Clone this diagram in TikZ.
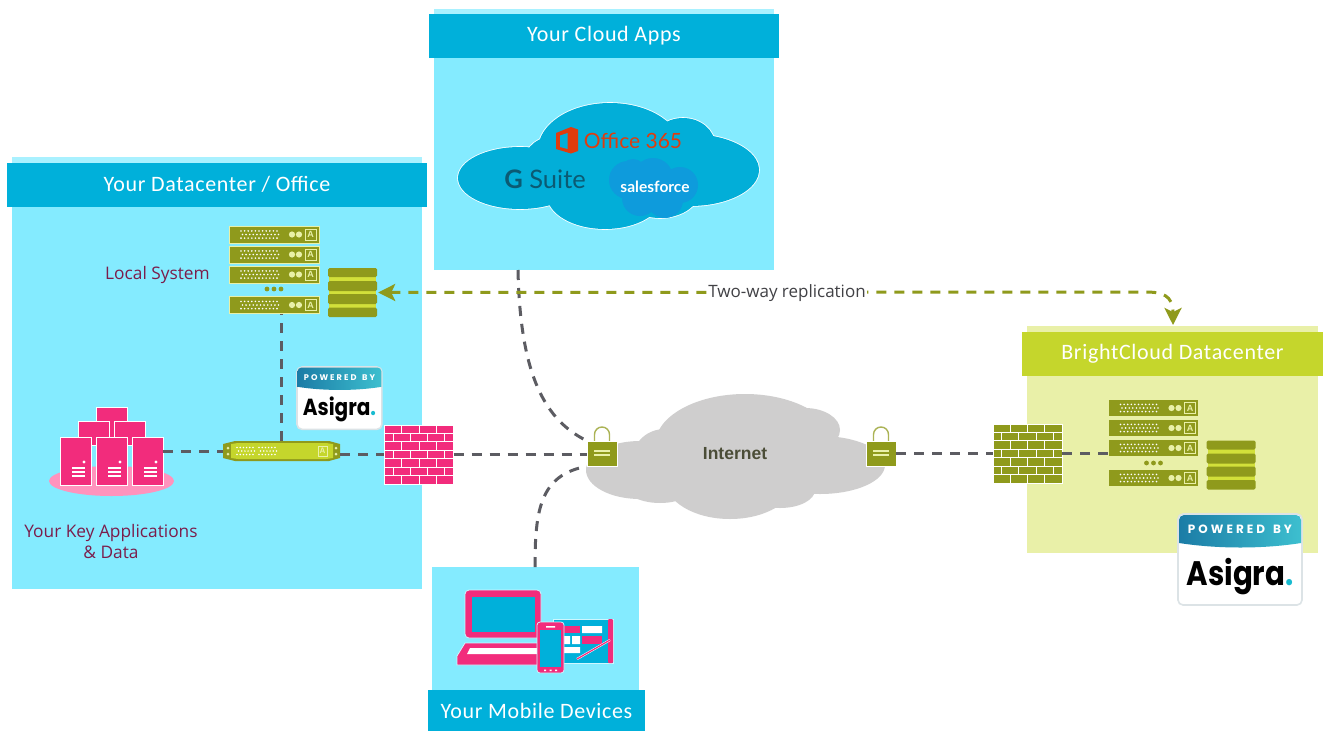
\documentclass[tikz,border=0pt]{standalone}
\usepackage{fontspec}
\setmainfont{Open Sans}
\newfontfamily\headf[LetterSpace=3]{Carlito}
\newfontfamily\lab{Open Sans}
\newfontfamily\arialf{Liberation Sans}
\newfontfamily\brandf{Lato}
\newfontfamily\asf{Poppins}
\newfontfamily\asn[FakeStretch=.86]{Poppins}
\usetikzlibrary{arrows.meta,calc,shapes.geometric}
\definecolor{hdr}{HTML}{00B0DA}
\definecolor{pan}{HTML}{84EBFF}
\definecolor{hdrg}{HTML}{C5D62C}
\definecolor{pang}{HTML}{E9F0A8}
\definecolor{oli}{HTML}{8F9A1C}
\definecolor{lim}{HTML}{D2E03A}
\definecolor{pk}{HTML}{F22C7C}
\definecolor{lpk}{HTML}{FF93BD}
\definecolor{gry}{HTML}{5C5C62}
\definecolor{plum}{HTML}{7B1D4B}
\definecolor{cloudg}{HTML}{CFCECE}
\definecolor{appcl}{HTML}{02AED8}
\definecolor{sfc}{HTML}{0E9BDC}
\definecolor{o365}{HTML}{E03C0E}
\definecolor{gs}{HTML}{0B5A73}
\definecolor{bd1}{HTML}{1B7CA6}
\definecolor{bd2}{HTML}{3DBFCF}
\definecolor{bdln}{HTML}{DCE3E6}
\definecolor{dotc}{HTML}{18BBD0}
\newcommand{\appscloudpath}{(520,178) ellipse [x radius=62pt,y radius=31pt]
  (610,150) ellipse [x radius=72pt,y radius=47pt]
  (690,170) ellipse [x radius=69pt,y radius=36pt]
  (683,145) ellipse [x radius=32pt,y radius=27pt]
  (605,195) ellipse [x radius=58pt,y radius=34pt]
  (660,190) ellipse [x radius=40pt,y radius=28pt]
  (555,160) ellipse [x radius=30pt,y radius=24pt]}
\tikzset{
  headbox/.style={fill=hdr,draw=none,inner sep=0pt,text=white,font=\headf\fontsize{22}{26}\selectfont},
  headgbox/.style={headbox,fill=hdrg},
  panelbox/.style={fill=pan,draw=none,inner sep=0pt},
  link/.style={draw=gry,line width=3pt,dash pattern=on 10pt off 8pt},
  repl/.style={draw=oli,line width=3pt,dash pattern=on 10pt off 8pt},
  textlab/.style={text=plum,font=\lab\fontsize{17.3}{21}\selectfont,align=center,inner sep=0pt},
  srvbody/.style={fill=oli,draw=pang,line width=.8pt,minimum width=90pt,minimum height=17pt,inner sep=0pt},
  server/.pic={
    \node[srvbody] (-body) at (0,0) {};
    \foreach \i in {0,...,10}{
      \fill[white] (-33+\i*3.6,-3.6) circle (.9pt);
      \fill[white] (-31.5+\i*3.6,0) circle (.9pt);
      \fill[white] (-33+\i*3.6,3.6) circle (.9pt);
    }
    \fill[pang] (18,0) circle (3.1pt) (25,0) circle (3.1pt);
    \draw[pang,line width=.9pt] (31,-5.5) rectangle (42,5.5);
    \node[text=pang,font=\arialf\bfseries\fontsize{9}{9}\selectfont,inner sep=0pt] at (36.5,0) {A};
  },
  dotsrow/.pic={\fill[oli] (-7,0) circle (2.4pt) (0,0) circle (2.4pt) (7,0) circle (2.4pt);},
  stackpic/.pic={
    \node[fill=lim,inner sep=0pt,minimum width=47pt,minimum height=46pt] (-body) at (0,0) {};
    \foreach \a/\b in {-24.5/-15.5,-11.5/-1.5,1.5/11.5,15/24.5}{
      \fill[oli,rounded corners=1.5pt] (-24.5,\a) rectangle (24.5,\b);
    }
  },
  firewall/.pic={
    \node[fill=#1,inner sep=0pt,minimum width=69pt,minimum height=59pt] (-body) at (0,0) {};
    \foreach \k in {1,...,6}{\draw[white,line width=.9pt] (-34.5,-29.5+\k*8.43) -- (34.5,-29.5+\k*8.43);}
    \foreach \k in {0,2,4,6}{
      \foreach \m in {1,2,3}{\draw[white,line width=.9pt] (-34.5+\m*17.25,-29.5+\k*8.43) -- ++(0,8.43);}
    }
    \foreach \k in {1,3,5}{
      \foreach \m in {0,1,2,3}{\draw[white,line width=.9pt] (-34.5+8.6+\m*17.25,-29.5+\k*8.43) -- ++(0,8.43);}
    }
    \draw[white,line width=.8pt] (-34.5,-29.5) rectangle (34.5,29.5);
  },
  padlock/.pic={
    \draw[oli!75!white,line width=1.4pt] (-7.5,-12) -- (-7.5,-19) arc[start angle=180,end angle=0,radius=7.5pt] -- (7.5,-12);
    \node[fill=oli,draw=white,line width=.8pt,minimum width=30pt,minimum height=25pt,inner sep=0pt] (-body) at (0,0) {};
    \draw[pang,line width=1.2pt] (-8,-2.5) -- (8,-2.5) (-8,1.5) -- (8,1.5);
  },
  badge/.pic={
    \node[fill=white,draw=bdln,line width=1.6pt,rounded corners=5pt,minimum width=124pt,minimum height=91pt,inner sep=0pt] (-body) at (62,45.5) {};
    \shade[left color=bd1,right color=bd2] (1,29) -- (1,6) arc[start angle=180,end angle=90,radius=5pt] -- (118,1) arc[start angle=90,end angle=0,radius=5pt] -- (123,29) .. controls (85,35) and (40,35) .. (1,29) -- cycle;
    \node[text=white,font=\asf\fontsize{12}{12}\selectfont\bfseries,inner sep=0pt] at (62,15.5) {P\kern3pt O\kern3pt W\kern3pt E\kern3pt R\kern3pt E\kern3pt D\kern8pt B\kern3pt Y};
    \node[text=black,font=\asn\bfseries\fontsize{34}{36}\selectfont,inner sep=0pt,anchor=base] at (62,71) {Asigra\textcolor{dotc}{.}};
  },
}
\begin{document}
\begin{tikzpicture}[x=1pt,y=-1pt]
\useasboundingbox (0,0) rectangle (1328,731);
\fill[white] (0,0) rectangle (1328,731);

% panels
\fill[pan!70!white] (12,157) rectangle (422,165);
\fill[pan!70!white] (434,9) rectangle (774,16);
\fill[pang] (1027,326) rectangle (1318,334);
\node[panelbox,minimum width=410pt,minimum height=384pt] (dcpanel) at (217,397) {};
\node[panelbox,minimum width=340pt,minimum height=214pt] (appspanel) at (604,163) {};
\node[panelbox,minimum width=207pt,minimum height=124pt] (mobpanel) at (535.5,629) {};
\node[panelbox,fill=pang,minimum width=291pt,minimum height=178pt] (bcpanel) at (1172.5,464) {};
\node[headbox,minimum width=420pt,minimum height=44pt] (dchead) at (217,184.5) {Your Datacenter / Office};
\node[headbox,minimum width=350pt,minimum height=44pt] (appshead) at (604,36) {\raisebox{-1.5pt}{Your Cloud Apps}};
\node[headbox,minimum width=217pt,minimum height=41pt] (mobhead) at (536.5,710.5) {Your Mobile Devices};
\node[headgbox,minimum width=301pt,minimum height=44pt] (bchead) at (1172.5,354) {\raisebox{-1.5pt}{BrightCloud Datacenter}};

% internet cloud
\fill[cloudg] (640,470) ellipse [x radius=54pt,y radius=29pt]
  (660,480) ellipse [x radius=40pt,y radius=23pt]
  (745,445) ellipse [x radius=90pt,y radius=51pt]
  (805,430) ellipse [x radius=35pt,y radius=22pt]
  (820,465) ellipse [x radius=65pt,y radius=29pt]
  (730,480) ellipse [x radius=65pt,y radius=39pt]
  (780,490) ellipse [x radius=35pt,y radius=18pt]
  (665,458) ellipse [x radius=32pt,y radius=29pt];
\node[text=black!60!oli!50!gry,font=\arialf\bfseries\fontsize{17.5}{20}\selectfont,inner sep=0pt] (inet) at (735,454) {Internet};

% apps cloud
\draw[white,line width=1.6pt] \appscloudpath;
\fill[appcl] \appscloudpath;
% office logo
\fill[o365] (556,133) -- (571,127) -- (578,129.5) -- (578,151) -- (571,153.5) -- (556,149) -- cycle;
\fill[appcl] (560,135.5) -- (567.5,133) -- (567.5,149) -- (560,147) -- cycle;
\node[text=o365,font=\brandf\fontsize{21}{25}\selectfont,inner sep=0pt] (o365t) at (633,141) {Office 365};
\node[text=gs,font=\brandf\fontsize{25.5}{28}\selectfont,inner sep=0pt] (gst) at (545,179) {\textbf{G} Suite};
\fill[sfc] (628,180) circle (19pt) (653,178) circle (20pt) (680,185) circle (18pt) (640,198) circle (18pt) (665,200) circle (18pt) (633,172) circle (13pt);
\node[text=white,font=\brandf\bfseries\fontsize{15.5}{17}\selectfont,inner sep=0pt] (sft) at (655,187) {salesforce};

% local system
\pic (la) at (274,234.5) {server};
\pic (lb) at (274,254.5) {server};
\pic (lc) at (274,274.5) {server};
\pic at (274,289) {dotsrow};
\pic (ld) at (274,305) {server};
\pic (ls) at (352.5,292.5) {stackpic};
\node[textlab] (loclab) at (157.5,275) {Local System};

% badge small
\begin{scope}[shift={(297,367)},scale=.685,transform shape]
\pic (bs) at (0,0) {badge};
\end{scope}

% appliance
\node[inner sep=0pt,minimum width=117pt,minimum height=20pt] (appl) at (281.5,451) {};
\fill[oli] (223,444) -- (235,441) -- (329,441) -- (340,444) -- (340,458) -- (329,461) -- (235,461) -- (223,458) -- cycle;
\fill[hdrg] (231,444) -- (238,443) -- (326,443) -- (333,444) -- (333,458) -- (326,459) -- (238,459) -- (231,458) -- cycle;
\fill[pang] (228,448) circle (1.5pt) (228,454) circle (1.5pt) (336,448) circle (1.5pt) (336,454) circle (1.5pt);
\foreach \i in {0,...,5}{
  \fill[white] (237+\i*3.2,447.5) circle (.85pt) (238.5+\i*3.2,451) circle (.85pt) (237+\i*3.2,454.5) circle (.85pt);
  \fill[white] (259+\i*3.2,447.5) circle (.85pt) (260.5+\i*3.2,451) circle (.85pt) (259+\i*3.2,454.5) circle (.85pt);
}
\draw[pang,line width=.8pt] (318,446) rectangle (327,456);
\node[text=pang,font=\arialf\bfseries\fontsize{8}{8}\selectfont,inner sep=0pt] at (322.5,451) {A};

% key applications
\node[ellipse,fill=lpk,inner sep=0pt,minimum width=125pt,minimum height=30pt] (kell) at (111.5,481) {};
\tikzset{kapp/.style={fill=pk,draw=white,line width=.7pt}}
\draw[kapp] (96,407) rectangle (127,440);
\draw[kapp] (78,421) rectangle (109,445);
\draw[kapp] (114,421) rectangle (145,445);
\foreach \X/\N in {60/ka,96/kb,132/kc}{
  \node[fill=pk,draw=white,line width=.7pt,minimum width=31pt,minimum height=48pt,inner sep=0pt] (\N) at (\X+15.5,461) {};
  \fill[white] (\X+24,462) circle (1.7pt);
  \draw[white,line width=1.1pt] (\X+12,468) -- (\X+25,468) (\X+12,472) -- (\X+25,472) (\X+12,476) -- (\X+25,476);
}
\node[textlab] (keylab) at (111,541.5) {Your Key Applications\\\& Data};

% firewalls and locks
\pic (fwa) at (419,454.5) {firewall=pk};
\pic (fwb) at (1027.5,453.5) {firewall=oli};
\pic (lka) at (602,453.5) {padlock};
\pic (lkb) at (881,453.5) {padlock};

% remote servers
\pic (ra) at (1153.5,408) {server};
\pic (rb) at (1153.5,428) {server};
\pic (rc) at (1153.5,448) {server};
\pic at (1153.5,463) {dotsrow};
\pic (rd) at (1153.5,478) {server};
\pic (rs) at (1231,465) {stackpic};
\begin{scope}[shift={(1178,514)}]
\pic (bl) at (0,0) {badge};
\end{scope}

% mobile devices
\fill[pk,draw=pan!40!white,line width=.8pt,rounded corners=4pt] (465,590) -- (541,590) -- (541,638) -- (465,638) -- cycle;
\fill[hdr] (472,597) rectangle (535,632);
\fill[pk,draw=pan!40!white,line width=.8pt] (465,643) -- (539,643) -- (539,665) -- (457,665) -- (457,656) -- cycle;
\fill[white] (470,648) -- (537,648) -- (537,654) -- (467,654) -- cycle;
\node[fill=hdr,draw=pan!40!white,line width=.8pt,minimum width=60pt,minimum height=44pt,inner sep=0pt] (tablet) at (583,641) {};
\fill[pk,rounded corners=1pt] (608,619) rectangle (613,663);
\fill[pk] (564,626) rectangle (580,633);
\fill[white] (582,626) rectangle (602,633) (564,636) rectangle (570,644) (572,636) rectangle (580,644) (564,647) rectangle (580,653);
\fill[pk] (582,636) rectangle (602,644);
\draw[white,line width=2.2pt] (610,640) -- (577,659);
\draw[pk,line width=1.2pt] (610,640) -- (577,659);
\node[fill=pk,draw=pan!40!white,line width=.8pt,rounded corners=3pt,minimum width=27pt,minimum height=51pt,inner sep=0pt] (phone) at (550.5,647.5) {};
\fill[hdr] (539.5,630) rectangle (561,667);
\fill[white] (546,626) rectangle (555,627.5) (544,669.5) rectangle (546,671) (549.5,669.5) rectangle (551.5,671) (555,669.5) rectangle (557,671);

% connectors
\draw[link] (appl.west -| kc.east) -- (appl.west);
\draw[link] (appl.east |- fwa-body.west) -- (fwa-body.west);
\draw[link] (appl.north) -- (appl.north |- ld-body.south);
\draw[link] (fwa-body.east) -- (fwa-body.east -| lka-body.west);
\draw[link] (lkb-body.east) -- (fwb-body.west);
\draw[link] (fwb-body.east) -- (fwb-body.east -| rc-body.west);
\coordinate (appsout) at (518,270);
\coordinate (mobout) at (535,567);
\draw[link] (appsout) .. controls (520,365) and (540,418) .. (lka-body.north west);
\draw[link] (mobout) .. controls (535,510) and (540,475) .. (lka-body.south west);
\coordinate (replbend) at (1173,325);
\draw[repl,{Stealth[length=17pt,width=17pt,inset=4pt]}-{Stealth[length=17pt,width=17pt,inset=4pt]}] (ls-body.east) ++(2,0) -- (1145,292) .. controls (1162,292) and (1173,295) .. (replbend);
\node[fill=white,inner sep=0pt,outer sep=0pt,minimum height=18pt,minimum width=160pt,text=gry!70!black,font=\lab\fontsize{17}{20}\selectfont] (repllab) at (787,293) {Two-way replication};
\end{tikzpicture}
\end{document}
